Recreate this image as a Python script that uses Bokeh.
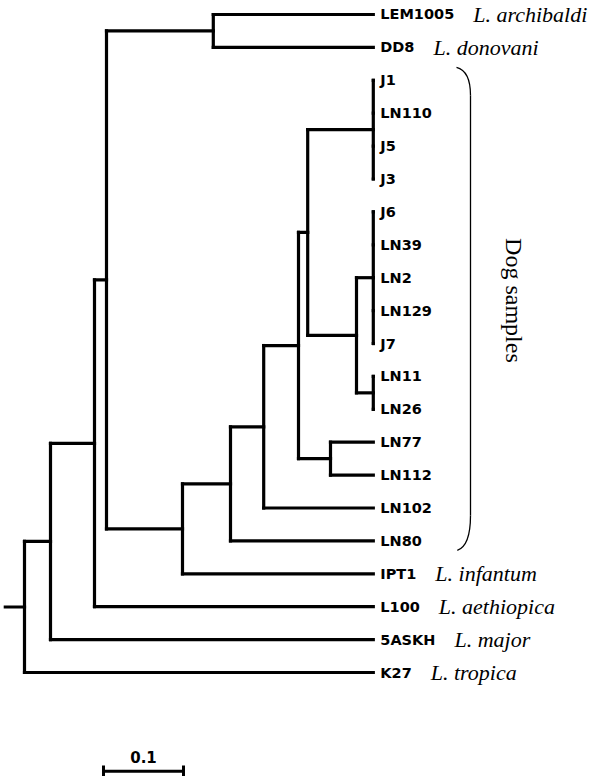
import math
from bokeh.plotting import figure
from bokeh.models import Range1d
from bokeh.core.properties import value
from bokeh.embed import file_html
from bokeh.resources import INLINE

# ---------------- data ----------------
leaves = ["LEM1005", "DD8", "J1", "LN110", "J5", "J3", "J6", "LN39", "LN2",
          "LN129", "J7", "LN11", "LN26", "LN77", "LN112", "LN102", "LN80",
          "IPT1", "L100", "5ASKH", "K27"]
leaf_parent = ["n4", "n4", "p1", "p1", "p1", "p1", "p2", "p2", "p2", "p2", "p2",
               "p3", "p3", "n11", "n11", "n7", "n6", "n5", "n2", "n1", "root"]
leaf_depth = [0.436] * 21

species_leaf = ["LEM1005", "DD8", "IPT1", "L100", "5ASKH", "K27"]
species_name = ["L. archibaldi", "L. donovani", "L. infantum", "L. aethiopica",
                "L. major", "L. tropica"]

nodes = ["root", "n1", "n2", "n3", "n4", "n5", "n6", "n7", "n8", "n9", "n10",
         "n11", "p1", "p2", "p3"]
node_parent = [None, "root", "n1", "n2", "n3", "n3", "n5", "n6", "n7", "n8",
               "n9", "n8", "n9", "n10", "n10"]
node_depth = [0.0, 0.0325, 0.0875, 0.1025, 0.236, 0.1975, 0.2575, 0.299,
              0.3425, 0.354, 0.415, 0.3825, 0.436, 0.436, 0.436]

group_label = "Dog samples"
scale_value = 0.1
scale_label = "0.1"

# ---------------- tree layout ----------------
depth = dict(zip(nodes, node_depth))
children = {n: [] for n in nodes}
ypos = {}
for i, (lf, par, d) in enumerate(zip(leaves, leaf_parent, leaf_depth)):
    depth[lf] = d
    ypos[lf] = float(i)
    children[par].append(lf)
for n, par in zip(nodes, node_parent):
    if par is not None:
        children[par].append(n)


def node_y(n):
    if n in ypos:
        return ypos[n]
    ys = [node_y(c) for c in children[n]]
    ypos[n] = (min(ys) + max(ys)) / 2.0
    return ypos[n]


node_y("root")

x0s, y0s, x1s, y1s = [], [], [], []
for n in nodes:
    ys = [ypos[c] for c in children[n]]
    x0s.append(depth[n]); x1s.append(depth[n])
    y0s.append(min(ys)); y1s.append(max(ys))
    for c in children[n]:
        x0s.append(depth[n]); x1s.append(depth[c])
        y0s.append(ypos[c]); y1s.append(ypos[c])
# root stub
x0s.append(-0.024); x1s.append(0.0)
y0s.append(ypos["root"]); y1s.append(ypos["root"])

# ---------------- figure ----------------
W, H = 595, 776
p = figure(width=W, height=H, output_backend="svg", toolbar_location=None,
           x_range=Range1d(-0.03, 0.71375), y_range=Range1d(23.161, -0.4255),
           min_border=0)
p.xaxis.visible = False
p.yaxis.visible = False
p.grid.visible = False
p.outline_line_color = None
p.background_fill_color = "white"
p.border_fill_color = "white"

p.segment(x0=x0s, y0=y0s, x1=x1s, y1=y1s, line_color="#000000",
          line_width=3.2, line_cap="square")

# leaf id labels
p.text(x=[depth[l] for l in leaves], y=[ypos[l] for l in leaves], text=leaves,
       x_offset=7, text_font=value("DejaVu Sans"), text_font_style="bold",
       text_font_size="14.5px", text_baseline="middle", text_align="left",
       text_color="#000000")

# species labels (offset after id label using DejaVu Sans Bold advance widths)
adv = {"L": 0.637, "E": 0.683, "M": 0.995, "D": 0.830, "I": 0.372, "P": 0.733,
       "T": 0.682, "A": 0.774, "S": 0.720, "K": 0.775, "H": 0.837, "N": 0.837,
       "J": 0.372}


def bold_width(s, size=14.5):
    return sum(adv.get(ch, 0.696) for ch in s) * size


p.text(x=[depth[l] for l in species_leaf], y=[ypos[l] for l in species_leaf],
       text=species_name,
       x_offset=[7 + bold_width(l) + 19 for l in species_leaf],
       text_font=value("Liberation Serif"), text_font_style="italic",
       text_font_size="22px", text_baseline="middle", text_align="left",
       text_color="#000000")

# bracket for dog samples
bx = 0.5575
p.quadratic(x0=[0.54], y0=[1.61], x1=[bx], y1=[2.46], cx=[bx], cy=[1.72],
            line_color="#000000", line_width=1.3)
p.segment(x0=[bx], y0=[2.46], x1=[bx], y1=[15.23], line_color="#000000",
          line_width=1.3)
p.quadratic(x0=[bx], y0=[15.23], x1=[0.541], y1=[16.29], cx=[bx], cy=[16.15],
            line_color="#000000", line_width=1.3)
p.text(x=[0.61125], y=[8.69], text=[group_label], angle=-math.pi / 2,
       text_font=value("Liberation Serif"), text_font_size="24px",
       text_align="center", text_baseline="middle", text_color="#000000")

# scale bar
sx0, sy = 0.09875, 23.0
p.segment(x0=[sx0], y0=[sy], x1=[sx0 + scale_value], y1=[sy],
          line_color="#000000", line_width=3)
p.segment(x0=[sx0, sx0 + scale_value], y0=[sy - 0.17, sy - 0.17],
          x1=[sx0, sx0 + scale_value], y1=[sy + 0.17, sy + 0.17],
          line_color="#000000", line_width=3)
p.text(x=[sx0 + scale_value / 2], y=[sy], y_offset=-14, text=[scale_label],
       text_font=value("DejaVu Sans"), text_font_style="bold",
       text_font_size="15px", text_align="center", text_baseline="middle",
       text_color="#000000")

open("out.html", "w").write(file_html(p, INLINE))
